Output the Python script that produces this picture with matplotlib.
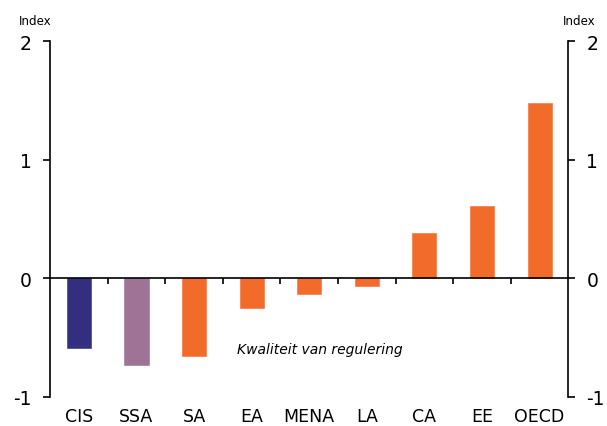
import numpy as np
import matplotlib
matplotlib.use("Agg")
import matplotlib.pyplot as plt

# regions and index values (regulatory quality)
regions = ["CIS", "SSA", "SA", "EA", "MENA", "LA", "CA", "EE", "OECD"]
values = [-0.59, -0.73, -0.66, -0.255, -0.13, -0.065, 0.385, 0.605, 1.475]
colors = ["#332e80", "#9e7396"] + ["#f26b2b"] * 7
yticks = [-1, 0, 1, 2]

plt.rcParams['font.family'] = ['DejaVu Sans']

fig = plt.figure(figsize=(6.07, 4.27), dpi=100)
ax = fig.add_axes([0.0824, 0.069, 0.854, 0.832])

x = np.arange(len(regions))
ax.bar(x, values, width=0.42, color=colors, edgecolor=colors, linewidth=0.4, zorder=2)

ax.set_xlim(-0.5, len(regions) - 0.5)
ax.set_ylim(-1, 2)

# spines
for s in ["left", "right", "bottom"]:
    ax.spines[s].set_linewidth(1.2)
ax.spines["top"].set_visible(False)
ax.spines["bottom"].set_position(("data", 0))
ax.spines["bottom"].set_zorder(3)

# y axis, both sides
ax.set_yticks(yticks)
ax.set_yticklabels([str(v) for v in yticks])
ax.tick_params(axis="y", direction="out", length=5, width=1.2, labelsize=13.5,
               pad=8, left=True, right=True, labelleft=True, labelright=True)

# x axis: category names at bottom, separator ticks on the zero line
ax.set_xticks(x)
ax.set_xticklabels(regions)
ax.tick_params(axis="x", which="major", length=0, labelsize=12.5, pad=93)
ax.set_xticks(np.arange(0.5, len(regions) - 1, 1), minor=True)
ax.tick_params(axis="x", which="minor", direction="out", length=4, width=1.2)

ax.text(2.75, -0.6, "Kwaliteit van regulering", style="italic", fontsize=10,
        va="center", ha="left")

fig.text(19 / 607, 1 - 21.5 / 427, "Index", fontsize=8.6, va="center", ha="left")
fig.text(596 / 607, 1 - 21.5 / 427, "Index", fontsize=8.6, va="center", ha="right")

fig.savefig("out.png", dpi=100)
